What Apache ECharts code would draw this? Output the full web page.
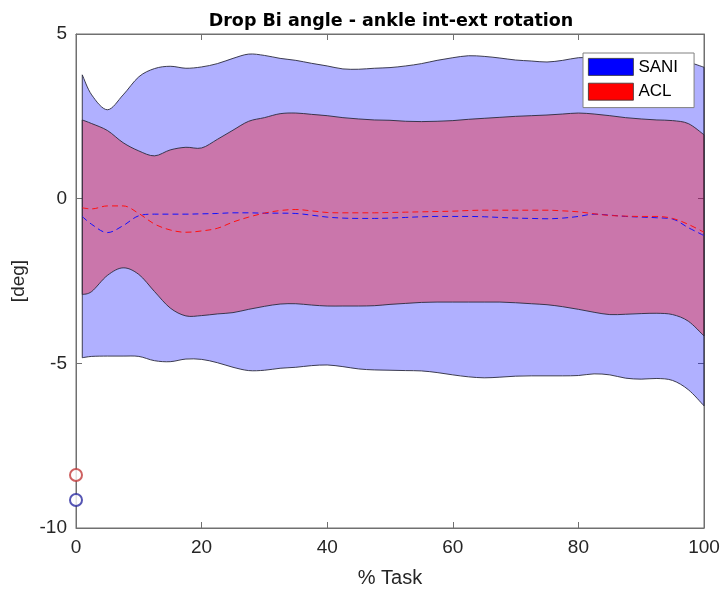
<!DOCTYPE html>
<html>
<head>
<meta charset="utf-8">
<script src="https://cdn.jsdelivr.net/npm/echarts@6/dist/echarts.min.js"></script>
<style>html,body{margin:0;padding:0;background:#fff}#c{width:720px;height:590px}</style>
</head>
<body>
<div id="c"></div>
<script>
// % Task sample points
var xs = [1, 2.5, 5, 7.5, 10, 12.5, 15, 17.5, 20, 22.5, 25, 27.5, 30, 32.5, 35, 37.5, 40, 42.5, 45, 47.5, 50,
          52.5, 55, 57.5, 60, 62.5, 65, 67.5, 70, 72.5, 75, 77.5, 80, 82.5, 85, 87.5, 90, 92.5, 95, 97.5, 100];
// SANI band (upper / mean / lower)
var saniUpper = [3.76, 3.15, 2.70, 3.15, 3.70, 3.95, 4.02, 3.96, 4.00, 4.10, 4.26, 4.39, 4.35, 4.26, 4.20, 4.11, 4.03, 3.94, 3.93, 3.96, 3.98,
                 4.03, 4.10, 4.20, 4.28, 4.34, 4.32, 4.27, 4.21, 4.18, 4.15, 4.20, 4.28, 4.28, 4.26, 4.24, 4.22, 4.20, 4.18, 4.14, 3.99];
var saniMean = [-0.54, -0.78, -1.03, -0.82, -0.52, -0.47, -0.47, -0.47, -0.46, -0.45, -0.43, -0.43, -0.44, -0.44, -0.45, -0.50, -0.56, -0.59, -0.60, -0.60, -0.59,
                -0.57, -0.55, -0.54, -0.54, -0.54, -0.55, -0.57, -0.59, -0.60, -0.61, -0.59, -0.54, -0.47, -0.50, -0.54, -0.56, -0.58, -0.62, -0.88, -1.12];
var saniLower = [-4.83, -4.79, -4.78, -4.78, -4.79, -4.92, -4.95, -4.87, -4.88, -4.98, -5.12, -5.22, -5.21, -5.15, -5.12, -5.07, -5.05, -5.10, -5.17, -5.20, -5.21,
                 -5.22, -5.23, -5.28, -5.35, -5.41, -5.44, -5.42, -5.39, -5.38, -5.38, -5.38, -5.37, -5.32, -5.35, -5.45, -5.48, -5.46, -5.52, -5.80, -6.29];
// ACL band (upper / mean / lower)
var aclUpper = [2.39, 2.28, 2.07, 1.70, 1.45, 1.30, 1.48, 1.56, 1.54, 1.80, 2.08, 2.35, 2.46, 2.58, 2.60, 2.56, 2.52, 2.46, 2.42, 2.39, 2.38,
                2.35, 2.34, 2.35, 2.37, 2.41, 2.44, 2.47, 2.50, 2.52, 2.54, 2.57, 2.60, 2.57, 2.52, 2.46, 2.42, 2.39, 2.37, 2.28, 1.94];
var aclMean = [-0.28, -0.31, -0.22, -0.22, -0.45, -0.77, -0.95, -1.02, -0.98, -0.90, -0.71, -0.56, -0.44, -0.36, -0.33, -0.37, -0.42, -0.43, -0.43, -0.43, -0.42,
               -0.41, -0.40, -0.39, -0.38, -0.36, -0.35, -0.35, -0.35, -0.35, -0.35, -0.37, -0.40, -0.46, -0.51, -0.53, -0.54, -0.54, -0.60, -0.78, -1.02];
var aclLower = [-2.91, -2.82, -2.33, -2.10, -2.30, -2.82, -3.32, -3.56, -3.55, -3.50, -3.46, -3.36, -3.27, -3.20, -3.19, -3.23, -3.26, -3.26, -3.26, -3.25, -3.21,
                -3.18, -3.15, -3.14, -3.14, -3.14, -3.14, -3.14, -3.16, -3.19, -3.22, -3.28, -3.36, -3.45, -3.52, -3.51, -3.49, -3.48, -3.52, -3.72, -4.17];
// initial-value markers at x = 0
var aclStart = [0, -8.39];
var saniStart = [0, -9.15];
// axis ticks
var xTicks = {min: 0, max: 100, interval: 20};
var yTicks = {min: -10, max: 5, interval: 5};

function pairs(a) { return xs.map(function (x, i) { return [x, a[i]]; }); }
function bandData(u, l) { return xs.map(function (x, i) { return [x, u[i], l[i]]; }); }

// Catmull-Rom through pixel points (from api.coord) -> cubic bezier path commands
function curve(p) {
  var s = '', n = p.length;
  for (var i = 0; i < n - 1; i++) {
    var p0 = p[Math.max(i - 1, 0)], p1 = p[i], p2 = p[i + 1], p3 = p[Math.min(i + 2, n - 1)];
    var c1 = [p1[0] + (p2[0] - p0[0]) / 6, p1[1] + (p2[1] - p0[1]) / 6];
    var c2 = [p2[0] - (p3[0] - p1[0]) / 6, p2[1] - (p3[1] - p1[1]) / 6];
    s += 'C' + c1[0] + ',' + c1[1] + ' ' + c2[0] + ',' + c2[1] + ' ' + p2[0] + ',' + p2[1];
  }
  return s;
}
function bandRenderer(fill) {
  return function (params, api) {
    if (params.dataIndex !== 0) return null;
    var up = [], lo = [];
    for (var i = 0; i < xs.length; i++) {
      up.push(api.coord([api.value(0, i), api.value(1, i)]));
      lo.push(api.coord([api.value(0, i), api.value(2, i)]));
    }
    lo.reverse();
    var d = 'M' + up[0][0] + ',' + up[0][1] + curve(up) + 'L' + lo[0][0] + ',' + lo[0][1] + curve(lo) + 'Z';
    return {
      type: 'path',
      shape: {pathData: d},
      style: {fill: fill, stroke: '#2a2a3c', lineWidth: 0.9}
    };
  };
}

var axisCol = '#707070';
var FONT = 'Liberation Sans, Arial, Helvetica, sans-serif';
var TFONT = 'DejaVu Sans, Liberation Sans, sans-serif';
var lblStyle = {color: '#262626', fontSize: 19, fontFamily: FONT};

var chart = echarts.init(document.getElementById('c'), null, {renderer: 'canvas'});
chart.setOption({
  animation: false,
  backgroundColor: '#fff',
  title: {
    text: 'Drop Bi angle - ankle int-ext rotation',
    left: 386, top: 7, textAlign: 'center',
    textStyle: {fontSize: 17.5, fontWeight: 'bold', color: '#000', fontFamily: TFONT}
  },
  grid: {left: 76, right: 16, top: 34, bottom: 62, outerBoundsMode: 'none', containLabel: false,
         show: true, borderColor: axisCol, borderWidth: 1, backgroundColor: 'transparent'},
  legend: {
    data: [
      {name: 'SANI', itemStyle: {color: '#0000ff', borderColor: '#333', borderWidth: 0.8}},
      {name: 'ACL', itemStyle: {color: '#ff0000', borderColor: '#333', borderWidth: 0.8}}
    ],
    orient: 'vertical', left: 583, top: 53,
    icon: 'rect', itemWidth: 45, itemHeight: 17, itemGap: 7,
    padding: [5, 16, 7, 5],
    backgroundColor: '#fff', borderColor: '#808080', borderWidth: 1,
    textStyle: {color: '#000', fontSize: 17, fontFamily: FONT},
    selectedMode: false
  },
  xAxis: [{
    type: 'value', min: xTicks.min, max: xTicks.max, interval: xTicks.interval,
    name: '% Task', nameLocation: 'middle', nameGap: 40,
    nameTextStyle: {color: '#262626', fontSize: 20, fontFamily: FONT},
    axisLine: {show: true, onZero: false, lineStyle: {color: axisCol}},
    axisTick: {show: true, inside: true, length: 6, lineStyle: {color: axisCol}},
    axisLabel: Object.assign({margin: 10}, lblStyle),
    splitLine: {show: false}
  }, {
    type: 'value', position: 'top', min: xTicks.min, max: xTicks.max, interval: xTicks.interval,
    axisLine: {show: true, onZero: false, lineStyle: {color: axisCol}},
    axisTick: {show: true, inside: true, length: 6, lineStyle: {color: axisCol}},
    axisLabel: {show: false}, splitLine: {show: false}
  }],
  yAxis: [{
    type: 'value', min: yTicks.min, max: yTicks.max, interval: yTicks.interval,
    name: '[deg]', nameLocation: 'middle', nameGap: 47, nameRotate: 90,
    nameTextStyle: {color: '#262626', fontSize: 19, fontFamily: FONT},
    axisLine: {show: true, onZero: false, lineStyle: {color: axisCol}},
    axisTick: {show: true, inside: true, length: 6, lineStyle: {color: axisCol}},
    axisLabel: Object.assign({margin: 9}, lblStyle),
    splitLine: {show: false}
  }, {
    type: 'value', position: 'right', min: yTicks.min, max: yTicks.max, interval: yTicks.interval,
    axisLine: {show: true, onZero: false, lineStyle: {color: axisCol}},
    axisTick: {show: true, inside: true, length: 6, lineStyle: {color: axisCol}},
    axisLabel: {show: false}, splitLine: {show: false}
  }],
  series: [
    {name: 'SANI', type: 'custom', data: bandData(saniUpper, saniLower), encode: {x: 0, y: [1, 2]},
     renderItem: bandRenderer('rgba(0,0,255,0.31)'), itemStyle: {color: '#0000ff'}, z: 2},
    {name: 'ACL', type: 'custom', data: bandData(aclUpper, aclLower), encode: {x: 0, y: [1, 2]},
     renderItem: bandRenderer('rgba(255,0,0,0.33)'), itemStyle: {color: '#ff0000'}, z: 3},
    {name: 'saniMean', type: 'line', data: pairs(saniMean), smooth: 0.35, symbol: 'none',
     lineStyle: {color: '#1010ff', width: 1, type: [6, 4]}, z: 4},
    {name: 'aclMean', type: 'line', data: pairs(aclMean), smooth: 0.35, symbol: 'none',
     lineStyle: {color: '#ff1010', width: 1, type: [6, 4]}, z: 5},
    {name: 'aclStart', type: 'scatter', data: [aclStart], symbol: 'emptyCircle', symbolSize: 12, clip: false,
     itemStyle: {color: '#c23a3a', borderColor: '#c23a3a', borderWidth: 1}, z: 6},
    {name: 'saniStart', type: 'scatter', data: [saniStart], symbol: 'emptyCircle', symbolSize: 12, clip: false,
     itemStyle: {color: '#2a2aa0', borderColor: '#2a2aa0', borderWidth: 1}, z: 6}
  ]
});
</script>
</body>
</html>
